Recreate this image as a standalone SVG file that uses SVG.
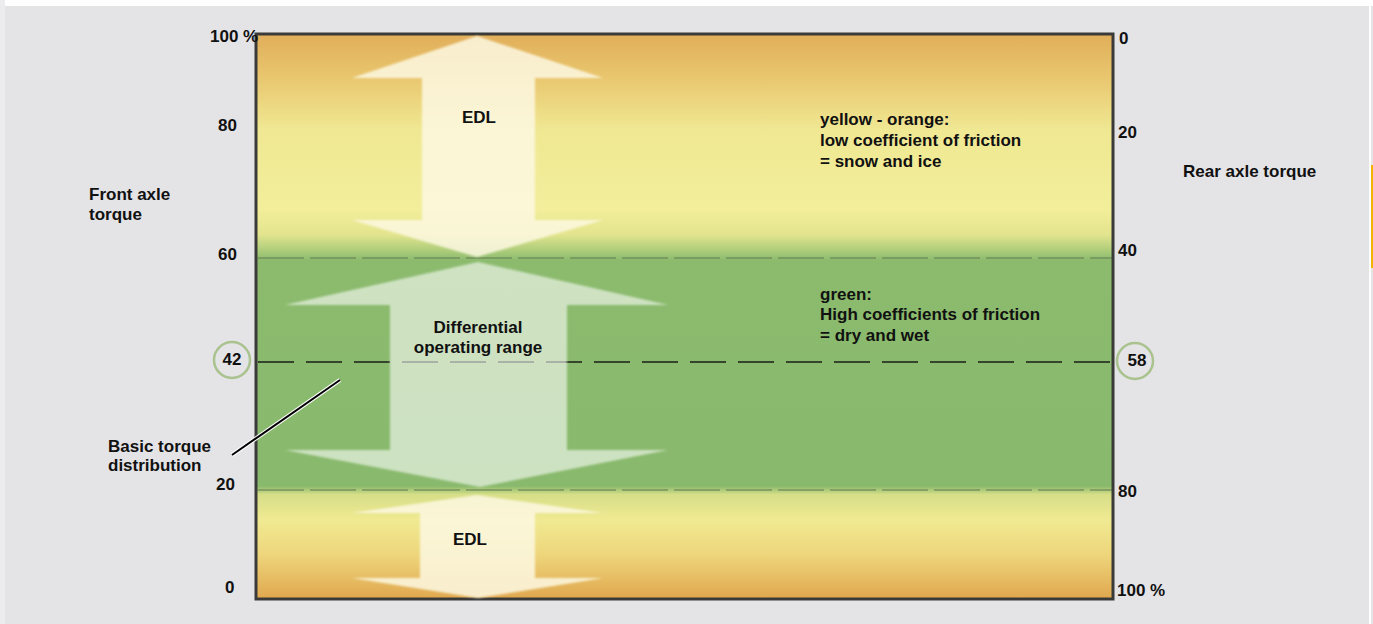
<svg xmlns="http://www.w3.org/2000/svg" width="1373" height="624" viewBox="0 0 1373 624">
<style>
  text { font-family: "Liberation Sans", Arial, sans-serif; font-weight: bold; font-size: 17px; fill: #111; }
  .c { text-anchor: middle; }
  .edl { fill: #fdf8e2; fill-opacity: 0.85; }
  .mid { fill: #ffffff; fill-opacity: 0.58; }
  .dash { stroke: #6a8456; stroke-width: 1.6; stroke-dasharray: 46 6; fill: none; opacity: 0.8; }
  .dash42 { stroke: #34452c; stroke-width: 2; stroke-dasharray: 36 12; fill: none; }
  .ring { fill: none; stroke: #a9c28e; stroke-width: 2.5; }
</style>
<defs>
  <linearGradient id="bg" x1="0" y1="0" x2="0" y2="1">
    <stop offset="0" stop-color="#e1ae5a"/>
    <stop offset="0.07" stop-color="#e8c46c"/>
    <stop offset="0.17" stop-color="#f0e893"/>
    <stop offset="0.31" stop-color="#f2ee9a"/>
    <stop offset="0.355" stop-color="#e3e48e"/>
    <stop offset="0.385" stop-color="#a9cb79"/>
    <stop offset="0.40" stop-color="#8cbb6e"/>
    <stop offset="0.80" stop-color="#88b96c"/>
    <stop offset="0.815" stop-color="#d6de88"/>
    <stop offset="0.86" stop-color="#f0ea92"/>
    <stop offset="0.92" stop-color="#eed67c"/>
    <stop offset="1" stop-color="#e0a74e"/>
  </linearGradient>
  <filter id="soft" x="-5%" y="-5%" width="110%" height="110%">
    <feGaussianBlur stdDeviation="1"/>
  </filter>
</defs>

<rect x="0" y="0" width="1373" height="624" fill="#e4e4e6"/>
<rect x="0" y="0" width="1373" height="6" fill="#ffffff"/>
<rect x="0" y="0" width="5" height="624" fill="#ececee"/>
<rect x="1369" y="0" width="2" height="624" fill="#ffffff"/>
<rect x="1371" y="165" width="2" height="103" fill="#f2b400"/>

<g id="plot">
  <rect x="256" y="34" width="857" height="565" fill="url(#bg)"/>
  <line class="dash" x1="258" y1="258" x2="1112" y2="258"/>
  <line class="dash" x1="258" y1="490" x2="1112" y2="490"/>
  <line class="dash42" x1="258" y1="362" x2="1112" y2="362"/>
  <rect x="256" y="34" width="857" height="565" fill="none" stroke="#3a3a38" stroke-width="3"/>
</g>

<g id="edl-top">
  <polygon class="edl" filter="url(#soft)" points="477,36 603,78 535,78 535,220 603,220 477,257 352,220 422,220 422,78 352,78"/>
  <text class="c" x="479" y="123">EDL</text>
</g>

<g id="diff-range">
  <polygon class="mid" filter="url(#soft)" points="478,262 668,305 567,305 567,450 668,450 480,487 285,450 390,450 390,305 285,305"/>
  <text class="c" x="478" y="333">Differential</text>
  <text class="c" x="478" y="353">operating range</text>
</g>

<g id="edl-bottom">
  <polygon class="edl" filter="url(#soft)" points="477,495 603,513 535,513 535,578 603,578 478,598 352,578 420,578 420,513 352,513"/>
  <text class="c" x="470" y="545">EDL</text>
</g>

<g id="left-axis">
  <text x="210" y="42">100 %</text>
  <text x="218" y="131">80</text>
  <text x="218" y="260">60</text>
  <text x="216" y="490">20</text>
  <text x="225" y="593">0</text>
  <circle class="ring" cx="232" cy="360" r="18"/>
  <text class="c" x="232" y="365">42</text>
  <text x="89" y="200">Front axle</text>
  <text x="89" y="220">torque</text>
</g>

<g id="right-axis">
  <text x="1119" y="44">0</text>
  <text x="1118" y="138">20</text>
  <text x="1118" y="256">40</text>
  <circle class="ring" cx="1135" cy="361" r="18"/>
  <text class="c" x="1137" y="366">58</text>
  <text x="1118" y="497">80</text>
  <text x="1117" y="596">100 %</text>
  <text x="1183" y="177">Rear axle torque</text>
</g>

<g id="legend">
  <text x="820" y="125">yellow - orange:</text>
  <text x="820" y="146">low coefficient of friction</text>
  <text x="820" y="167">= snow and ice</text>
  <text x="820" y="300">green:</text>
  <text x="820" y="320">High coefficients of friction</text>
  <text x="820" y="341">= dry and wet</text>
</g>

<g id="basic-label">
  <text x="108" y="452">Basic torque</text>
  <text x="108" y="471">distribution</text>
</g>

<g id="connectors">
  <line x1="232" y1="455" x2="340" y2="380" stroke="#ffffff" stroke-width="4"/>
  <line x1="232" y1="455" x2="340" y2="380" stroke="#000000" stroke-width="2"/>
</g>
</svg>
